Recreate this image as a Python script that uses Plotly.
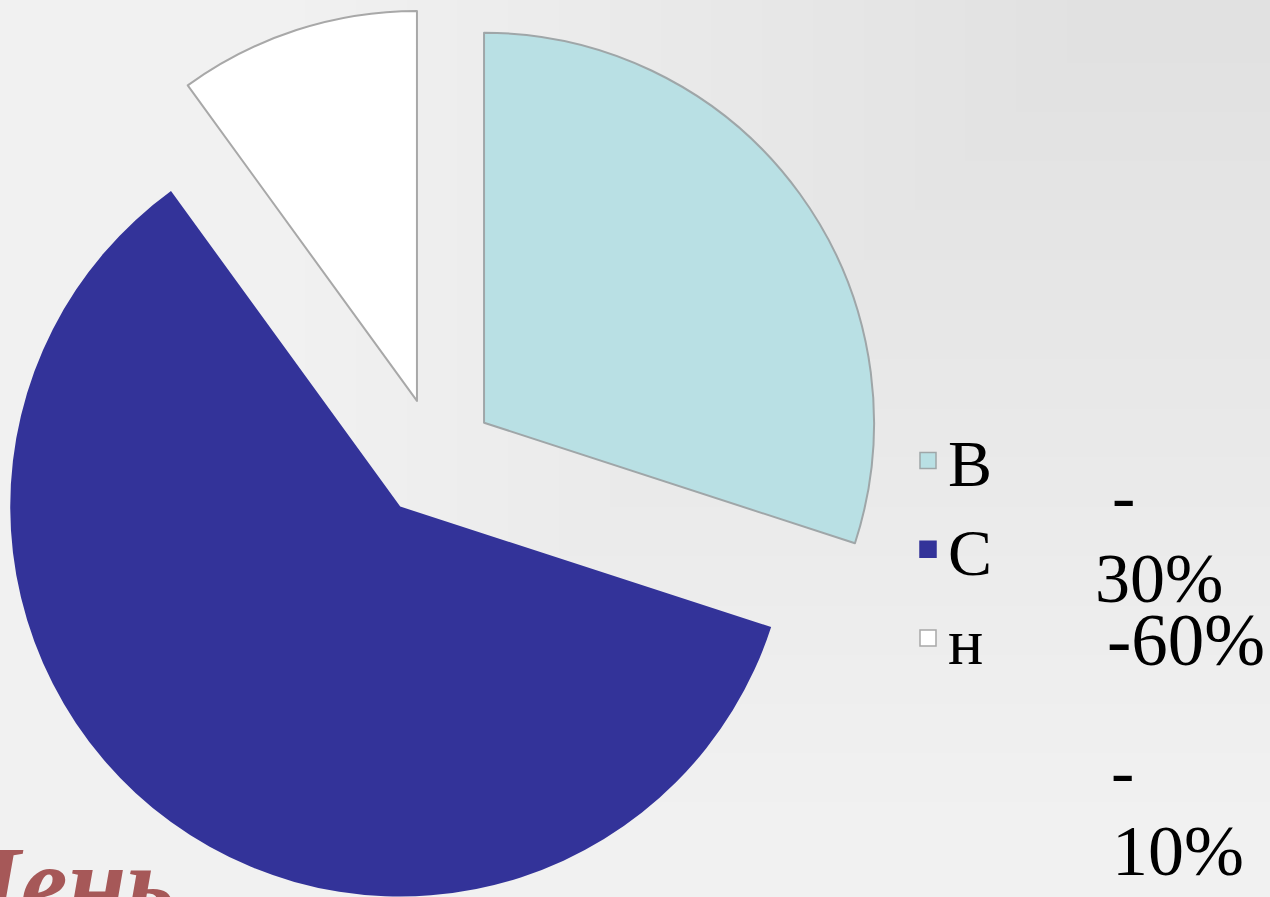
import math
import plotly.graph_objects as go

# ---- data ----
labels = ["В", "С", "н"]
values = [30, 60, 10]
slice_colors = ["#b9e0e4", "#333399", "#ffffff"]
edge_colors = ["#9fa6a8", "#333399", "#a8a8a8"]
edge_widths = [2, 0, 2]
footer_text = "День"

W, H = 1270, 897
CX, CY = 435.5, 458.0      # pie centre (px)
R = 390.0                  # pie radius (px)
PULL = 60.0                # explode distance (px)

fig = go.Figure()

# One pie trace per slice so each exploded slice keeps the full radius
total = float(sum(values))
cum = 0.0
for i, v in enumerate(values):
    mid = (cum + v / 2.0) / total * 2 * math.pi
    cum += v
    cx = CX + math.sin(mid) * PULL
    cy = CY - math.cos(mid) * PULL
    colors = ["rgba(0,0,0,0)"] * len(values)
    lcolors = ["rgba(0,0,0,0)"] * len(values)
    lwidths = [0] * len(values)
    colors[i] = slice_colors[i]
    lcolors[i] = edge_colors[i]
    lwidths[i] = edge_widths[i]
    fig.add_trace(go.Pie(
        labels=labels, values=values, sort=False, direction="clockwise",
        rotation=0, textinfo="none", showlegend=False,
        marker=dict(colors=colors, line=dict(color=lcolors, width=lwidths)),
        domain=dict(x=[(cx - R) / W, (cx + R) / W],
                    y=[max(0.0, 1 - (cy + R) / H), min(1.0, 1 - (cy - R) / H)]),
        hoverinfo="label+percent",
    ))

# legend entries
for i, lab in enumerate(labels):
    fig.add_trace(go.Scatter(
        x=[None], y=[None], mode="markers", name=lab,
        marker=dict(symbol="square", size=16, color=slice_colors[i],
                    line=dict(color=edge_colors[i] if edge_widths[i] else slice_colors[i], width=1.5)),
    ))

# percentage texts
pct = [f"{v}%" for v in values]
ann = [
    dict(text="-", x=1110, y=496, size=70),
    dict(text=pct[0], x=1093, y=578, size=70),
    dict(text="-" + pct[1], x=1105, y=640, size=73),
    dict(text="-", x=1109, y=771, size=70),
    dict(text=pct[2], x=1110, y=851, size=72),
]
annotations = []
for a in ann:
    annotations.append(dict(
        text=a["text"], x=a["x"] / W, y=1 - a["y"] / H, xref="paper", yref="paper",
        xanchor="left", yanchor="middle", showarrow=False,
        font=dict(family="Liberation Serif", size=a["size"], color="#000000"),
    ))
annotations.append(dict(
    text="<b><i>" + footer_text + "</i></b>", x=-0.05, y=-0.052, xref="paper", yref="paper",
    xanchor="left", yanchor="bottom", showarrow=False,
    font=dict(family="Liberation Serif", size=106, color="#a65858"),
))

# background: soft darkening towards the top-right corner
shapes = []
levels = 16
for k in range(1, levels + 1):
    g = 241 - k
    shapes.append(dict(
        type="rect", xref="paper", yref="paper", layer="below",
        x0=0.20 + k * 0.04, x1=1.0, y0=0.05 + k * 0.055, y1=1.0,
        fillcolor=f"rgb({g},{g},{g})", line=dict(width=0),
    ))

fig.update_layout(
    width=W, height=H,
    margin=dict(l=0, r=0, t=0, b=0),
    paper_bgcolor="#f1f1f1", plot_bgcolor="rgba(0,0,0,0)",
    xaxis=dict(visible=False), yaxis=dict(visible=False),
    showlegend=True,
    legend=dict(x=908 / W, y=1 - 411 / H, xanchor="left", yanchor="top",
                bgcolor="rgba(0,0,0,0)", borderwidth=0,
                font=dict(family="Liberation Serif", size=66, color="#000000")),
    annotations=annotations,
    shapes=shapes,
)

fig.write_html(
    "out.html",
    config={"displayModeBar": False},
    post_script="document.body.style.margin='0';document.body.style.overflow='hidden';"
                "document.body.style.background='#f1f1f1';",
)
